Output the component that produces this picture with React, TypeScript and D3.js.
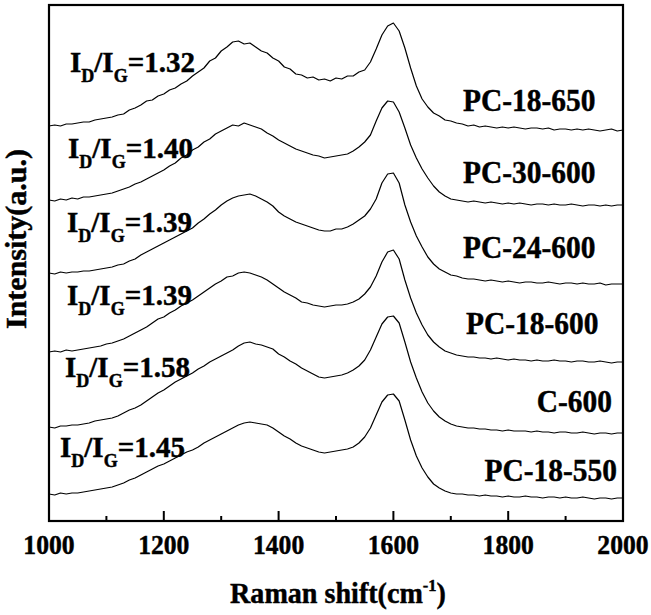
import React from "react";
import * as d3 from "d3";

// Raman shift sampling grid (cm^-1)
const ramanShift: number[] = d3.range(1000, 2001, 10);

// Stacked intensities (a.u.), one value every 10 cm^-1
const pc18_650 = [
  395,396,395,397,397,398,399,399,401,402,
  403,404,406,407,411,413,416,420,421,425,
  427,431,433,437,440,445,449,453,460,463,
  470,474,479,480,477,478,474,470,468,463,
  460,454,452,447,446,443,444,441,442,440,
  443,442,445,445,449,451,459,472,486,495,
  498,490,473,453,435,422,414,408,405,401,
  400,398,397,395,396,394,395,394,393,394,
  393,394,393,392,393,393,392,393,391,392,
  392,391,392,391,392,391,390,391,392,390,
  391,
];
const pc30_600 = [
  321,320,322,321,323,322,324,324,325,326,
  327,328,330,332,334,337,339,342,345,348,
  351,355,358,363,366,371,374,379,382,387,
  390,393,396,395,398,396,394,392,388,385,
  381,378,375,372,370,368,366,365,363,364,
  365,366,367,370,374,379,386,400,413,420,
  419,409,393,376,363,352,343,335,329,325,
  322,321,320,319,320,319,318,319,318,317,
  318,317,318,317,316,317,317,316,317,316,
  316,317,316,315,316,316,315,316,315,316,
  316,
];
const pc24_600 = [
  248,247,249,248,249,249,250,250,251,252,
  253,254,256,257,260,262,266,269,272,275,
  278,281,284,287,290,293,298,302,307,311,
  316,320,323,325,326,327,325,322,319,315,
  309,305,302,299,297,295,293,291,290,290,
  292,292,294,297,301,305,312,322,338,347,
  348,338,316,299,285,274,264,257,252,249,
  246,245,243,242,242,241,240,241,240,239,
  240,239,238,239,239,238,238,239,238,237,
  238,238,237,238,237,237,238,236,237,237,
  237,
];
const pc18_600 = [
  169,170,169,171,170,171,172,173,174,175,
  177,178,180,182,185,188,191,194,198,202,
  204,208,211,215,218,221,225,229,233,237,
  240,244,245,248,249,248,246,244,241,237,
  233,229,226,223,219,218,216,215,214,215,
  216,216,217,219,222,227,234,245,259,269,
  271,262,241,223,208,196,186,179,174,170,
  168,166,165,164,164,163,163,162,163,162,
  161,162,161,161,160,161,160,160,161,160,
  160,159,160,160,159,159,160,159,158,159,
  159,
];
const c600 = [
  94,93,95,95,96,96,97,98,100,101,
  102,103,105,108,111,113,116,120,124,128,
  131,135,139,142,145,148,152,155,159,162,
  165,168,171,175,178,179,177,176,174,172,
  167,164,160,157,153,150,147,144,143,144,
  145,146,148,151,155,161,171,184,197,204,
  205,198,179,159,143,129,118,110,104,100,
  97,95,94,93,93,92,92,91,91,90,
  91,90,90,90,89,90,89,89,88,89,
  89,88,88,89,88,87,88,88,87,88,
  88,
];
const pc18_550 = [
  27,26,28,27,28,28,29,30,31,32,
  33,34,36,38,41,43,46,49,52,55,
  57,60,63,66,69,71,74,78,81,84,
  87,90,93,96,98,99,98,97,96,93,
  89,85,82,78,75,73,71,69,68,69,
  70,71,72,74,78,84,93,106,119,126,
  127,120,101,81,65,53,44,37,33,30,
  28,27,27,26,26,25,26,25,25,24,
  25,24,24,25,24,24,23,24,24,23,
  24,23,23,24,23,22,23,23,22,23,
  23,
];

const seriesList = [pc18_650, pc30_600, pc24_600, pc18_600, c600, pc18_550];
const sampleNames = ["PC-18-650", "PC-30-600", "PC-24-600", "PC-18-600", "C-600", "PC-18-550"];
const ratioValues = ["1.32", "1.40", "1.39", "1.39", "1.58", "1.45"];
const majorTicks = [1000, 1200, 1400, 1600, 1800, 2000];
const minorTicks = [1100, 1300, 1500, 1700, 1900];

// layout
const W = 651;
const H = 615;
const PL = 49, PR = 623, PT = 5, PB = 521;

const ratioPos = [
  { x: 70, y: 72 },
  { x: 68, y: 158 },
  { x: 67, y: 232 },
  { x: 67, y: 305 },
  { x: 65, y: 377 },
  { x: 60, y: 457 },
];
const namePos = [
  { x: 463, y: 111, a: "start" },
  { x: 463, y: 183, a: "start" },
  { x: 463, y: 258, a: "start" },
  { x: 466, y: 334, a: "start" },
  { x: 612, y: 412, a: "end" },
  { x: 617, y: 481, a: "end" },
];

const FONT = "'Liberation Serif', 'Times New Roman', serif";
const SX = 0.92;
const TXT_STROKE = 0.45;

function SText(props: {
  x: number;
  y: number;
  size: number;
  sx?: number;
  anchor?: string;
  children: React.ReactNode;
}) {
  const sx = props.sx ?? SX;
  return (
    <text
      transform={`translate(${props.x},${props.y}) scale(${sx},1)`}
      fontSize={props.size}
      textAnchor={(props.anchor || "start") as any}
      fill="#000"
      stroke="#000"
      strokeWidth={TXT_STROKE}
    >
      {props.children}
    </text>
  );
}

export default function App() {
  const x = d3.scaleLinear().domain([1000, 2000]).range([PL, PR]);
  const y = d3.scaleLinear().domain([0, 516]).range([PB, PT]);
  const line = d3
    .line<number>()
    .x((_, i) => x(ramanShift[i]))
    .y((d) => y(d));

  return (
    <svg
      width={W}
      height={H}
      style={{ position: "absolute", left: 0, top: 0, background: "#fff" }}
      fontFamily={FONT}
      fontWeight="bold"
    >
      <rect x={0} y={0} width={W} height={H} fill="#fff" />
      {seriesList.map((s, k) => (
        <path
          key={k}
          d={line(s.slice(0, ramanShift.length)) || ""}
          fill="none"
          stroke="#000"
          strokeWidth={1.2}
          strokeLinejoin="round"
        />
      ))}
      {/* frame */}
      <rect
        x={PL}
        y={PT}
        width={PR - PL}
        height={PB - PT}
        fill="none"
        stroke="#000"
        strokeWidth={2.2}
      />
      {/* ticks */}
      {majorTicks.map((t) => (
        <line key={"M" + t} x1={x(t)} x2={x(t)} y1={PB} y2={PB - 10} stroke="#000" strokeWidth={2} />
      ))}
      {minorTicks.map((t) => (
        <line key={"m" + t} x1={x(t)} x2={x(t)} y1={PB} y2={PB - 5} stroke="#000" strokeWidth={2} />
      ))}
      {majorTicks.map((t) => (
        <SText key={"L" + t} x={x(t)} y={554} size={27} sx={0.95} anchor="middle">
          {t}
        </SText>
      ))}
      {/* axis titles */}
      <SText x={338} y={603} size={29} sx={0.97} anchor="middle">
        Raman shift(cm
        <tspan fontSize={17} dy={-12}>-1</tspan>
        <tspan dy={12}>)</tspan>
      </SText>
      <text
        transform="translate(26,239) rotate(-90)"
        fontSize={30}
        textAnchor="middle"
        fill="#000"
        stroke="#000"
        strokeWidth={TXT_STROKE}
      >
        Intensity(a.u.)
      </text>
      {/* ratio labels */}
      {ratioValues.map((r, k) => (
        <SText key={"r" + k} x={ratioPos[k].x} y={ratioPos[k].y} size={29} sx={1}>
          I
          <tspan fontSize={18} dy={10}>D</tspan>
          <tspan dy={-10}>/I</tspan>
          <tspan fontSize={18} dy={10}>G</tspan>
          <tspan dy={-10}>={r}</tspan>
        </SText>
      ))}
      {/* sample names */}
      {sampleNames.map((n, k) => (
        <SText key={"n" + k} x={namePos[k].x} y={namePos[k].y} size={32} anchor={namePos[k].a}>
          {n}
        </SText>
      ))}
    </svg>
  );
}
